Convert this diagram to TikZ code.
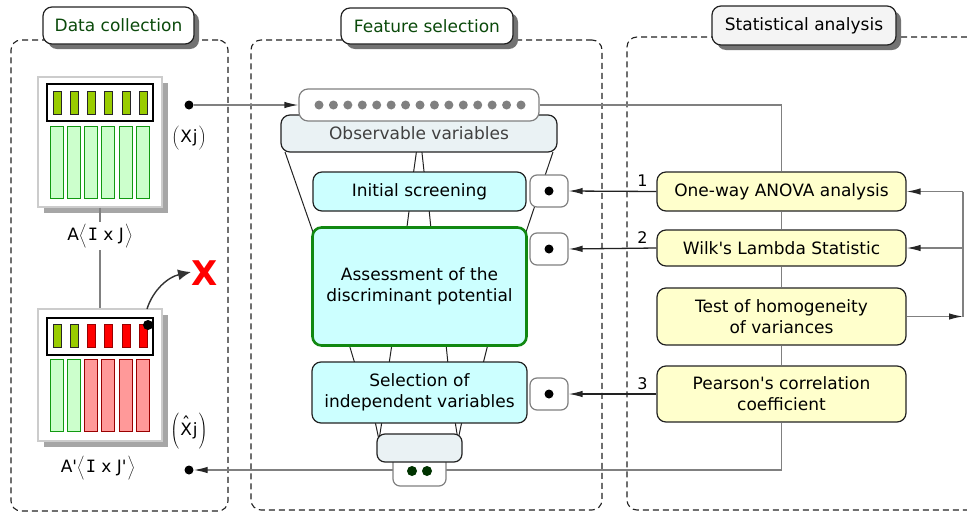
\documentclass[tikz,border=0pt]{standalone}
\usepackage{fontspec}
\setmainfont{DejaVu Sans}
\newfontfamily\monof{DejaVu Sans Mono}
\usetikzlibrary{arrows.meta,shadows,calc}
\definecolor{titlegreen}{HTML}{0B4A0B}
\definecolor{cyanfill}{HTML}{CCFFFF}
\definecolor{yelfill}{HTML}{FFFFCC}
\definecolor{obsfill}{HTML}{EAF2F4}
\definecolor{satfill}{HTML}{F4F4F4}
\definecolor{gline}{HTML}{808080}
\definecolor{darkline}{HTML}{222222}
\definecolor{barygreen}{HTML}{99CC00}
\definecolor{barlgreen}{HTML}{CCFFCC}
\definecolor{bargreenb}{HTML}{119911}
\definecolor{barred}{HTML}{FF0000}
\definecolor{barlred}{HTML}{FF9999}
\definecolor{barredb}{HTML}{990000}
\definecolor{assgreen}{HTML}{118811}
\definecolor{dotgreen}{HTML}{003300}
\newcommand\qs{\textquotesingle}
\newcommand\strutS{\vrule height 15pt depth 7pt width 0pt}
\newcommand\strutT{\vrule height 21pt depth 11pt width 0pt}
\newcommand\Xhat{{\setbox0\hbox{X}\rlap{\hbox to\wd0{\hss\raisebox{6pt}{\char"02C6}\hss}}\box0}}
\begin{document}
\begin{tikzpicture}[x=1pt,y=-1pt,
  font=\fontsize{17}{21}\selectfont,
  every node/.style={inner sep=0pt, align=center},
  panel/.style={draw=darkline, line width=1.1pt, dash pattern=on 6pt off 4pt, rounded corners=10pt},
  titlebox/.style={draw=darkline, line width=1.2pt, fill=white, rounded corners=9pt, text=titlegreen,
     drop shadow={shadow xshift=5pt, shadow yshift=-5pt, fill=black!55, opacity=1}},
  card/.style={draw=black!20, line width=1.2pt, fill=white, minimum width=124pt,
     drop shadow={shadow xshift=6pt, shadow yshift=-6pt, fill=black!35, opacity=1}},
  innerbox/.style={draw=black, line width=1.2pt, fill=white, minimum width=106pt, minimum height=37pt},
  topbar/.style={draw=black!85, line width=0.9pt, minimum width=8pt, minimum height=23pt},
  lowbar/.style={line width=1pt, minimum width=13pt, minimum height=72pt},
  blackdot/.style={circle, fill=black, minimum size=9pt},
  dotbox/.style={draw=gline, line width=1.2pt, fill=white, rounded corners=7pt, minimum width=38pt, minimum height=32pt},
  fsbox/.style={draw=darkline, line width=1.2pt, fill=cyanfill, rounded corners=9pt},
  sabox/.style={draw=darkline, line width=1.2pt, fill=yelfill, rounded corners=9pt, minimum width=249pt},
  gconn/.style={draw=gline, line width=1.3pt},
  bconn/.style={draw=darkline, line width=1.3pt},
  tip/.style={-{Latex[length=14pt,width=6.5pt,color=black!85]}},
  fline/.style={draw=darkline, line width=1pt},
  num/.style={font=\fontsize{16}{16}\selectfont, above=4pt}
]
\useasboundingbox (0,0) rectangle (967,512);
\clip (0,0) rectangle (967,512);

% panels
\node[panel, minimum width=217pt, minimum height=471pt] (pdc) at (119.5,275.5) {};
\node[panel, minimum width=351pt, minimum height=470pt] (pfs) at (426.5,275) {};
\node[panel, minimum width=380pt, minimum height=473pt] (psa) at (817,273.5) {};

% titles
\node[titlebox, minimum width=151pt, minimum height=37pt] (tdc) at (118.5,25.5) {Data collection};
\node[titlebox, minimum width=172pt, minimum height=36pt] (tfs) at (427,26) {Feature selection};
\node[titlebox, fill=satfill, text=black, minimum width=184pt, minimum height=39pt] (tsa) at (804,25.5) {Statistical analysis};

% ---------- Data collection ----------
\node[card, minimum height=130pt] (card1) at (100,142) {};
\node[card, minimum height=132pt] (card2) at (100,375) {};
\draw[gconn] (card1.south) -- (card2.north);
\node[fill=white, inner sep=2pt] (lab1) at (100,236) {A$\left\langle\strutS\right.${\monof I} x J$\left.\strutS\right\rangle$};

\node[innerbox] (ib1) at (100,102.5) {};
\foreach \i in {0,...,5} {
  \node[topbar, fill=barygreen] (tb1\i) at ({57+17.3*\i},102.5) {};
  \node[lowbar, draw=bargreenb, fill=barlgreen] (lb1\i) at ({56.5+17.3*\i},162) {};
}
\node[innerbox] (ib2) at (100,336.5) {};
\foreach \i in {0,1} {
  \node[topbar, fill=barygreen] (tb2\i) at ({57+17.3*\i},336) {};
  \node[lowbar, draw=bargreenb, fill=barlgreen] (lb2\i) at ({56.5+17.3*\i},395) {};
}
\foreach \i in {2,...,5} {
  \node[topbar, draw=barredb, fill=barred] (tb2\i) at ({57+17.3*\i},336) {};
  \node[lowbar, draw=barredb, fill=barlred] (lb2\i) at ({56.5+17.3*\i},395) {};
}
\node[blackdot, minimum size=10pt] (cdot) at (148,325) {};

\node (xj) at (189,138) {$\left(\strutS\right.$X\kern1pt j$\left.\strutS\right)$};
\node (xhj) at (189,431) {$\left(\strutT\right.$\Xhat\kern1pt j$\left.\strutT\right)$};
\node (lab2) at (98,468) {A\qs$\left\langle\strutS\right.${\monof I} x J\qs$\left.\strutS\right\rangle$};

\node[text=red, font=\fontsize{34}{34}\selectfont\bfseries] (rx) at (205,273) {X};
\coordinate (cs) at (147,309);
\coordinate (ce) at (191,272);
\draw[line width=1.4pt, draw=black!80, -{Latex[length=13pt,width=11pt]}] (cs) .. controls (153,290) and (168,277) .. (ce);

\node[blackdot] (d1) at (189,105) {};
\node[blackdot] (d2) at (189,470) {};

% ---------- Feature selection ----------
\draw[fline] (285,152) -- (314,235);
\draw[fline] (553,152) -- (525,235);
\draw[fline] (416.7,150) -- (413.3,174);
\draw[fline] (421.7,150) -- (424.3,174);
\draw[fline] (409.3,209) -- (406.7,229);
\draw[fline] (429,209) -- (431,229);
\draw[fline] (349,344) -- (355,364);
\draw[fline] (392,344) -- (389,364);
\draw[fline] (446,344) -- (448,364);
\draw[fline] (488,344) -- (483,364);
\draw[fline] (375,421) -- (379,440);
\draw[fline] (382,421) -- (379,440);
\draw[fline] (455,421) -- (458,440);
\draw[fline] (462,421) -- (458,440);

\node[draw=darkline, line width=1.2pt, fill=obsfill, rounded corners=9pt, minimum width=276pt, minimum height=37pt, text=black!75] (obs) at (419,133.5) {\raisebox{-3pt}{Observable variables}};
\node[draw=gline, line width=1.2pt, fill=white, rounded corners=9pt, minimum width=240pt, minimum height=32pt] (obsdots) at (419,105) {};
\foreach \i in {0,...,14} \node[circle, fill=gline, minimum size=9pt] (od\i) at ({319+14.43*\i},105) {};

\node[fsbox, minimum width=213pt, minimum height=39pt] (init) at (419.5,191.5) {Initial screening};
\node[fsbox, draw=assgreen, line width=2.6pt, minimum width=214pt, minimum height=118pt] (assess) at (419.5,286.5) {Assessment of the\\discriminant potential};
\node[fsbox, minimum width=215pt, minimum height=61pt] (sel) at (419.5,392.5) {Selection of\\independent variables};

\node[dotbox] (db1) at (549,191) {};
\node[dotbox] (db2) at (549,249) {};
\node[dotbox] (db3) at (549,394) {};
\node[blackdot] (db1d) at (db1) {};
\node[blackdot] (db2d) at (db2) {};
\node[blackdot] (db3d) at (db3) {};

% ---------- Statistical analysis ----------
\node[sabox, minimum height=39pt] (anova) at (781.5,191.5) {One-way ANOVA analysis};
\node[sabox, minimum height=36pt] (wilk) at (781.5,248) {Wilk\qs s Lambda Statistic};
\node[sabox, minimum height=57pt] (test) at (781.5,316.5) {Test of homogeneity\\of variances};
\node[sabox, minimum height=56pt] (pear) at (781.5,394) {Pearson\qs s correlation\\coefficient};

% connectors
\draw[gconn, tip] (d1) -- (obsdots.west);
\draw[gconn] (obsdots.east) -| (anova.north);
\draw[gconn] (anova.south) -- (wilk.north);
\draw[gconn] (wilk.south) -- (test.north);
\draw[gconn] (test.south) -- (pear.north);
\draw[gconn, tip] (pear.south) |- (d2.east);

\coordinate (r1) at (963,191.5);
\coordinate (r2) at (963,248);
\coordinate (r3) at (963,316.5);
\draw[gconn, tip] (test.east) -- (r3);
\draw[gconn] (r3) -- (r1);
\draw[gconn, tip] (r1) -- (anova.east);
\draw[gconn, tip] (r2) -- (wilk.east);

\draw[bconn, tip] (anova.west) -- node[pos=0.16, num] {1} (db1.east);
\draw[bconn, tip] (wilk.west) -- node[pos=0.16, num] {2} (db2.east);
\draw[bconn, tip] (pear.west) -- node[pos=0.16, num] {3} (db3.east);

% bottom of funnel
\node[draw=gline, line width=1.2pt, fill=white, rounded corners=7pt, minimum width=53pt, minimum height=32pt] (twod) at (419.5,470) {};
\node[circle, fill=dotgreen, minimum size=10pt] (tdl) at (412,471) {};
\node[circle, fill=dotgreen, minimum size=10pt] (tdr) at (427,471) {};
\node[draw=darkline, line width=1.2pt, fill=obsfill, rounded corners=8pt, minimum width=85pt, minimum height=28pt] (bot) at (419.5,448) {};
\end{tikzpicture}
\end{document}
